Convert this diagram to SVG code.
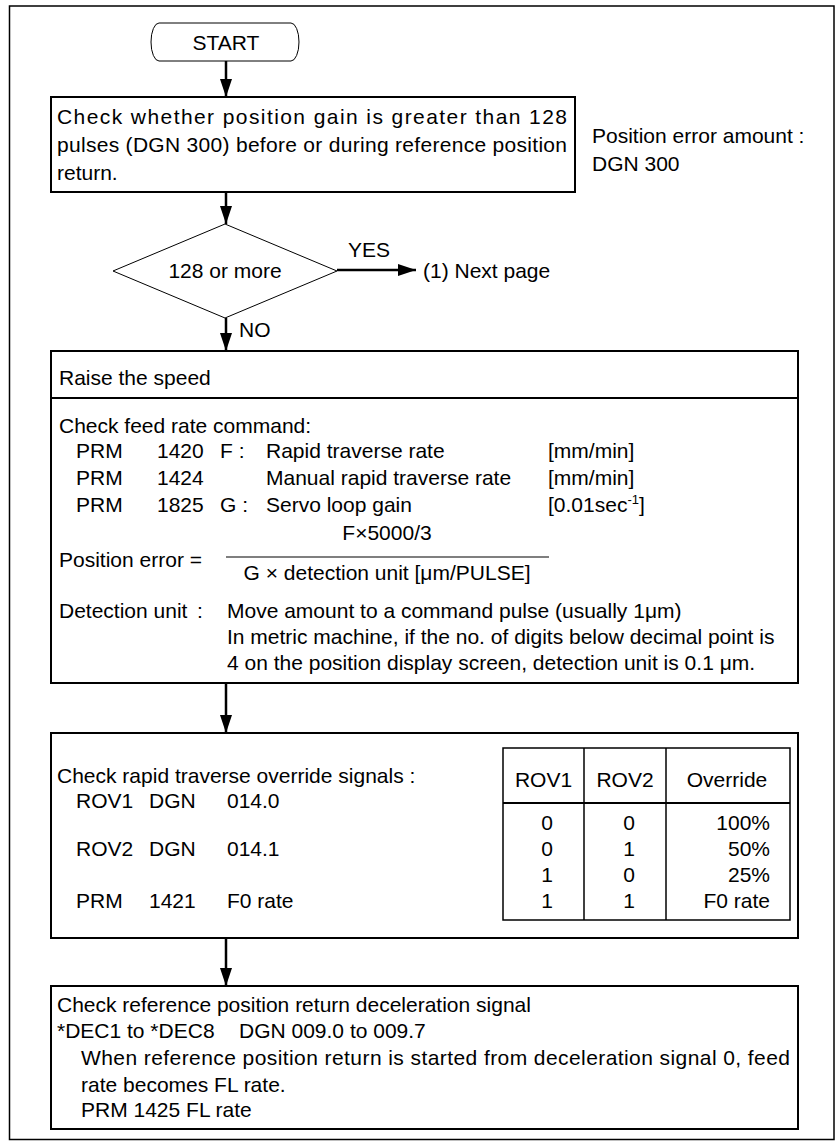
<svg xmlns="http://www.w3.org/2000/svg" width="836" height="1142" viewBox="0 0 836 1142">
<style>
text{font-family:"Liberation Sans",Arial,sans-serif;font-size:21px;fill:#000}
.box{fill:#fff;stroke:#000;stroke-width:2}
.thin{fill:#fff;stroke:#000;stroke-width:1}
.conn{stroke:#000;stroke-width:2.5;fill:none}
.tl{stroke:#000;stroke-width:1.5;fill:none}
.c{text-anchor:middle}
.r{text-anchor:end}
</style>
<defs>
<marker id="ah" markerUnits="userSpaceOnUse" markerWidth="18" markerHeight="12" refX="18" refY="6" orient="auto">
<path d="M0,0 L18,6 L0,12 Z" fill="#000"/>
</marker>
</defs>
<rect x="9.5" y="6" width="824.5" height="1133.5" fill="none" stroke="#000" stroke-width="1.5"/>

<g id="start">
<path class="thin" d="M159,23 H291 A8,19 0 0 1 291,61 H159 A8,19 0 0 1 159,23 Z"/>
<text x="226" y="50" class="c">START</text>
</g>

<g id="check-gain">
<rect class="box" x="51" y="97" width="524" height="95"/>
<text x="57" y="124" textLength="510" lengthAdjust="spacing">Check whether position gain is greater than 128</text>
<text x="57" y="152" textLength="510" lengthAdjust="spacing">pulses (DGN 300) before or during reference position</text>
<text x="57" y="180">return.</text>
</g>

<g id="note-position-error">
<text x="592" y="143">Position error amount :</text>
<text x="592" y="171">DGN 300</text>
</g>

<g id="decision">
<polygon class="thin" points="113,271 225,224 337,271 225,318"/>
<text x="225" y="278" class="c">128 or more</text>
</g>

<g id="next-page">
<text x="423" y="278">(1) Next page</text>
</g>

<g id="raise-speed">
<rect class="box" x="51" y="351" width="747" height="332"/>
<line x1="51" y1="398" x2="798" y2="398" stroke="#000" stroke-width="2"/>
<text x="59" y="385">Raise the speed</text>
<text x="59" y="433">Check feed rate command:</text>
<text x="76" y="458">PRM</text><text x="157" y="458">1420</text><text x="220" y="458">F :</text><text x="266" y="458">Rapid traverse rate</text><text x="548" y="458">[mm/min]</text>
<text x="76" y="485">PRM</text><text x="157" y="485">1424</text><text x="266" y="485">Manual rapid traverse rate</text><text x="548" y="485">[mm/min]</text>
<text x="76" y="512">PRM</text><text x="157" y="512">1825</text><text x="220" y="512">G :</text><text x="266" y="512">Servo loop gain</text><text x="548" y="512">[0.01sec<tspan font-size="13" dy="-8">-1</tspan><tspan dy="8">]</tspan></text>
<text x="387" y="540" class="c">F×5000/3</text>
<line x1="226" y1="557" x2="549" y2="557" stroke="#000" stroke-width="1.2"/>
<text x="59" y="567">Position error =</text>
<text x="387" y="580" class="c">G × detection unit [μm/PULSE]</text>
<text x="59" y="618">Detection unit</text><text x="197" y="618">:</text>
<text x="227" y="618">Move amount to a command pulse (usually 1μm)</text>
<text x="227" y="644">In metric machine, if the no. of digits below decimal point is</text>
<text x="227" y="670">4 on the position display screen, detection unit is 0.1 μm.</text>
</g>

<g id="override">
<rect class="box" x="51" y="733" width="747" height="205"/>
<text x="57" y="783">Check rapid traverse override signals :</text>
<text x="76" y="808">ROV1</text><text x="149" y="808">DGN</text><text x="227" y="808">014.0</text>
<text x="76" y="856">ROV2</text><text x="149" y="856">DGN</text><text x="227" y="856">014.1</text>
<text x="76" y="908">PRM</text><text x="149" y="908">1421</text><text x="227" y="908">F0 rate</text>
<g id="override-table">
<rect class="tl" x="503" y="748" width="287" height="172"/>
<line class="tl" x1="584" y1="748" x2="584" y2="920"/>
<line class="tl" x1="666" y1="748" x2="666" y2="920"/>
<line x1="503" y1="803" x2="790" y2="803" stroke="#000" stroke-width="2"/>
<text x="543.5" y="787" class="c">ROV1</text><text x="625" y="787" class="c">ROV2</text><text x="727" y="787" class="c">Override</text>
<text x="547" y="830" class="c">0</text><text x="629" y="830" class="c">0</text><text x="770" y="830" class="r">100%</text>
<text x="547" y="856" class="c">0</text><text x="629" y="856" class="c">1</text><text x="770" y="856" class="r">50%</text>
<text x="547" y="882" class="c">1</text><text x="629" y="882" class="c">0</text><text x="770" y="882" class="r">25%</text>
<text x="547" y="908" class="c">1</text><text x="629" y="908" class="c">1</text><text x="770" y="908" class="r">F0 rate</text>
</g>
</g>

<g id="decel-signal">
<rect class="box" x="51" y="986" width="747" height="143"/>
<text x="57" y="1012">Check reference position return deceleration signal</text>
<text x="57" y="1038">*DEC1 to *DEC8</text><text x="239" y="1038">DGN 009.0 to 009.7</text>
<text x="81" y="1065" textLength="709" lengthAdjust="spacing">When reference position return is started from deceleration signal 0, feed</text>
<text x="81" y="1092">rate becomes FL rate.</text>
<text x="81" y="1117">PRM 1425 FL rate</text>
</g>

<g id="connectors">
<line class="conn" x1="226" y1="61" x2="226" y2="97" marker-end="url(#ah)"/>
<line class="conn" x1="226" y1="192" x2="226" y2="224" marker-end="url(#ah)"/>
<line class="conn" x1="337" y1="270" x2="416" y2="270" marker-end="url(#ah)"/>
<text x="348" y="257">YES</text>
<line class="conn" x1="226" y1="318" x2="226" y2="351" marker-end="url(#ah)"/>
<text x="239" y="337">NO</text>
<line class="conn" x1="226" y1="683" x2="226" y2="733" marker-end="url(#ah)"/>
<line class="conn" x1="226" y1="938" x2="226" y2="986" marker-end="url(#ah)"/>
</g>
</svg>
